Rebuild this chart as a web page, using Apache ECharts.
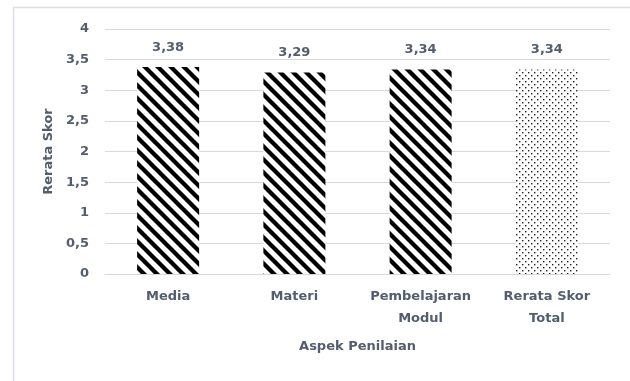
<!DOCTYPE html>
<html><head><meta charset="utf-8">
<script src="https://cdn.jsdelivr.net/npm/echarts@6/dist/echarts.min.js"></script>
<style>html,body{margin:0;padding:0;background:#fff}#c{width:630px;height:381px}</style>
</head><body><div id="c"></div>
<script>
const categories = ['Media', 'Materi', 'Pembelajaran\nModul', 'Rerata Skor\nTotal'];
const values = [3.38, 3.29, 3.34, 3.34];
const yTicks = [0, 0.5, 1, 1.5, 2, 2.5, 3, 3.5, 4];

function stripePattern() {
  const s = 13, c = document.createElement('canvas');
  c.width = s; c.height = s;
  const g = c.getContext('2d');
  g.fillStyle = '#fff'; g.fillRect(0, 0, s, s);
  g.strokeStyle = '#000'; g.lineWidth = 4.3;
  for (let k = -1; k <= 1; k++) {
    g.beginPath(); g.moveTo(k * s - 2, -2); g.lineTo(k * s + s + 2, s + 2); g.stroke();
  }
  return { image: c, repeat: 'repeat' };
}
function dotPattern() {
  const c = document.createElement('canvas');
  c.width = 6; c.height = 6;
  const g = c.getContext('2d');
  g.fillStyle = '#fff'; g.fillRect(0, 0, 6, 6);
  g.fillStyle = '#222';
  g.fillRect(0, 0, 1.4, 1.4);
  g.fillRect(3, 3, 1.4, 1.4);
  return { image: c, repeat: 'repeat' };
}
const stripe = stripePattern(), dots = dotPattern();
const txt = '#525d6e';
const font = '"DejaVu Sans"';
const fs = 13;

const chart = echarts.init(document.getElementById('c'), null, { renderer: 'canvas' });
chart.setOption({
  animation: false,
  backgroundColor: '#fff',
  graphic: [{
    type: 'rect', shape: { x: 13.5, y: 7.5, width: 700, height: 500 },
    style: { fill: 'none', stroke: '#dcdfe3', lineWidth: 1.5 }, silent: true, z: -1
  }],
  grid: { left: 105, right: 20, top: 29, bottom: 107 },
  xAxis: {
    type: 'category', data: categories,
    name: 'Aspek Penilaian', nameLocation: 'middle', nameGap: 66,
    nameTextStyle: { color: txt, fontSize: fs, fontWeight: 'bold', fontFamily: font },
    axisLine: { lineStyle: { color: '#d9d9d9', width: 1 } },
    axisTick: { show: false },
    axisLabel: { color: txt, fontSize: fs, fontWeight: 'bold', fontFamily: font, margin: 12, lineHeight: 22, interval: 0 }
  },
  yAxis: {
    type: 'value', min: 0, max: 4, interval: 0.5,
    name: 'Rerata Skor', nameLocation: 'middle', nameGap: 47,
    nameTextStyle: { color: txt, fontSize: fs, fontWeight: 'bold', fontFamily: font },
    axisLine: { show: false }, axisTick: { show: false },
    splitLine: { lineStyle: { color: '#d9d9d9', width: 1 } },
    axisLabel: {
      color: txt, fontSize: fs, fontWeight: 'bold', fontFamily: font, margin: 16,
      formatter: v => yTicks.includes(v) ? String(v).replace('.', ',') : ''
    }
  },
  series: [{
    type: 'bar', barWidth: 62,
    data: values.map((v, i) => ({ value: v, itemStyle: { color: i === 3 ? dots : stripe } })),
    label: {
      show: true, position: 'top', distance: 13,
      color: txt, fontSize: fs, fontWeight: 'bold', fontFamily: font,
      formatter: p => p.value.toFixed(2).replace('.', ',')
    }
  }]
});
</script></body></html>
